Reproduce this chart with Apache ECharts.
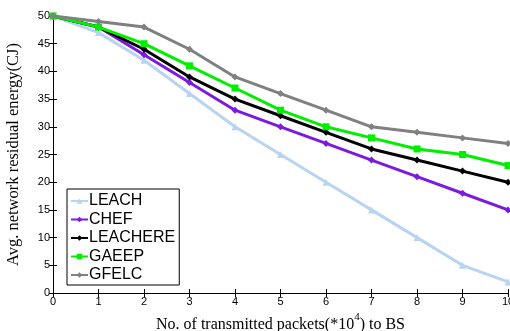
<!DOCTYPE html>
<html><head><meta charset="utf-8">
<script src="https://cdn.jsdelivr.net/npm/echarts@6/dist/echarts.min.js"></script>
<style>html,body{margin:0;padding:0;background:#fff}#c{width:510px;height:331px}</style>
</head><body><div id="c"></div>
<script>
const xValues = [0,1,2,3,4,5,6,7,8,9,10];
const leach    = [50,47,42,36,30,25,20,15,10,5,2];
const chef     = [50,48,43,38,33,30,27,24,21,18,15];
const leachere = [50,48,44,39,35,32,29,26,24,22,20];
const gaeep    = [50,48,45,41,37,33,30,28,26,25,23];
const gfelc    = [50,49,48,44,39,36,33,30,29,28,27];
const seriesNames = ['LEACH','CHEF','LEACHERE','GAEEP','GFELC'];
const seriesData = [leach, chef, leachere, gaeep, gfelc];
const colors = ['#b9d3f2','#7b1be0','#000000','#00ee00','#808080'];
const symbols = ['triangle','diamond','diamond','rect','diamond'];

const chart = echarts.init(document.getElementById('c'));
const tickFont = {fontFamily:'Liberation Sans, Arial', fontSize:11, color:'#000'};
const serif = 'Liberation Serif, Times New Roman';
chart.setOption({
  animation:false,
  grid:{left:53,right:2,top:16,bottom:38,outerBoundsMode:'none',containLabel:false},
  legend:{
    orient:'vertical', left:67, top:189, itemGap:2.5, itemWidth:17, itemHeight:7,
    padding:[4,4,2,3],
    borderColor:'#000', borderWidth:1, backgroundColor:'#fff',
    textStyle:{fontFamily:'Liberation Sans, Arial', fontSize:16, color:'#000', padding:[0,0,0,-4]},
    data: seriesNames
  },
  xAxis:[{
    type:'value', min:0, max:10, interval:1,
    name:'{a|No. of transmitted packets(*10}{s|4}{a|) to BS}',
    nameLocation:'middle', nameGap:18,
    nameTextStyle:{rich:{a:{fontFamily:serif,fontSize:16,color:'#000',verticalAlign:'bottom'},
                         s:{fontFamily:serif,fontSize:11,color:'#000',verticalAlign:'top',padding:[0,0,10,0]}}},
    axisLine:{lineStyle:{color:'#000',width:1}},
    axisTick:{inside:true,length:4,lineStyle:{color:'#000'}},
    axisLabel:Object.assign({margin:3},tickFont),
    splitLine:{show:false}
  },{
    type:'value', min:0, max:10, interval:1, position:'top',
    axisLine:{show:true,lineStyle:{color:'#000',width:1}},
    axisTick:{inside:true,length:4,lineStyle:{color:'#000'}},
    axisLabel:{show:false}, splitLine:{show:false}
  }],
  yAxis:[{
    type:'value', min:0, max:50, interval:5,
    name:'Avg. network residual energy(CJ)',
    nameLocation:'middle', nameGap:31,
    nameTextStyle:{fontFamily:serif,fontSize:16.5,color:'#000'},
    axisLine:{show:true,lineStyle:{color:'#000',width:1}},
    axisTick:{inside:true,length:4,lineStyle:{color:'#000'}},
    axisLabel:Object.assign({margin:3},tickFont),
    splitLine:{show:false}
  },{
    type:'value', min:0, max:50, interval:5, position:'right',
    axisLine:{show:true,lineStyle:{color:'#000',width:1}},
    axisTick:{inside:true,length:4,lineStyle:{color:'#000'}},
    axisLabel:{show:false}, splitLine:{show:false}
  }],
  series: seriesNames.map((n,i)=>({
    name:n, type:'line',
    data: xValues.map((x,j)=>[x, seriesData[i][j]]),
    symbol:symbols[i], symbolSize:7, showSymbol:true,
    lineStyle:{color:colors[i], width:3},
    itemStyle:{color:colors[i]},
    z: 2+i
  }))
});
</script></body></html>
